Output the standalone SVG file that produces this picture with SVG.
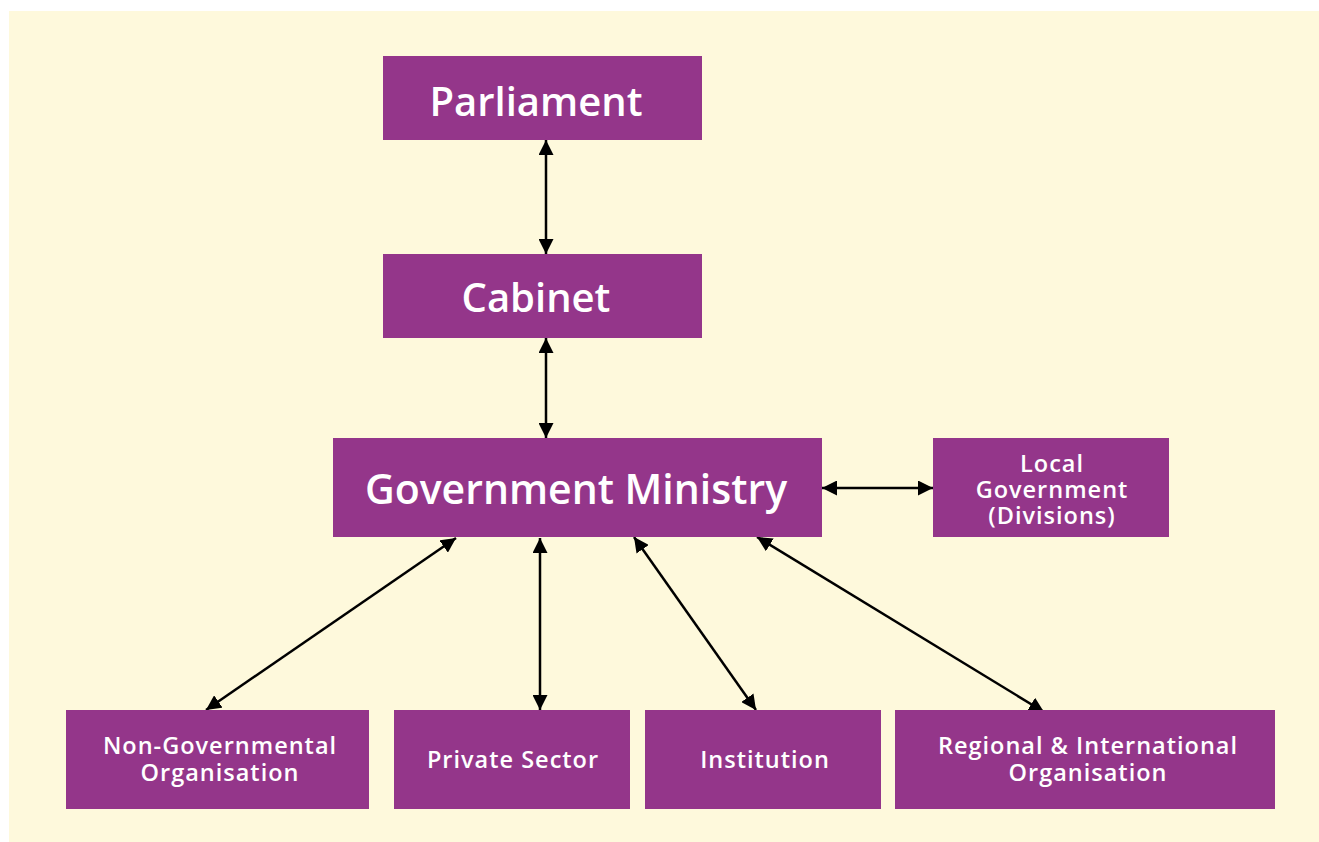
<svg xmlns="http://www.w3.org/2000/svg" width="1319" height="842" viewBox="0 0 1319 842">
<defs>
<marker id="ah" viewBox="0 0 10 10" refX="10" refY="5" markerWidth="6" markerHeight="6" orient="auto-start-reverse" markerUnits="strokeWidth">
<path d="M0,0 L10,5 L0,10 Z" fill="#000"/>
</marker>
<style>
.box{fill:#94368A}
.t{fill:#fff;font-family:"Open Sans","Liberation Sans",sans-serif;font-weight:600;text-anchor:middle}
.big{font-size:40px}
.gm{font-size:41px}
.sm{font-size:23.5px;letter-spacing:1px}
.c{stroke:#000;stroke-width:2.5;fill:none;marker-start:url(#ah);marker-end:url(#ah)}
</style>
</defs>
<rect x="0" y="0" width="1319" height="842" fill="#fff"/>
<rect x="9" y="11" width="1310" height="831" fill="#FEF9DC"/>
<g id="connectors">
<line class="c" x1="546" y1="140" x2="546" y2="254"/>
<line class="c" x1="546" y1="338" x2="546" y2="438"/>
<line class="c" x1="822" y1="488" x2="933" y2="488"/>
<line class="c" x1="456" y1="538" x2="206" y2="710"/>
<line class="c" x1="540" y1="538" x2="540" y2="710"/>
<line class="c" x1="634" y1="537" x2="756" y2="710"/>
<line class="c" x1="757" y1="537" x2="1044" y2="712"/>
</g>
<g id="parliament"><rect class="box" x="383" y="56" width="319" height="84"/><text class="t big" x="536" y="116">Parliament</text></g>
<g id="cabinet"><rect class="box" x="383" y="254" width="319" height="84"/><text class="t big" x="536" y="312">Cabinet</text></g>
<g id="ministry"><rect class="box" x="333" y="438" width="489" height="99"/><text class="t gm" x="576" y="504">Government Ministry</text></g>
<g id="local"><rect class="box" x="933" y="438" width="236" height="99"/><text class="t sm" x="1052" y="472">Local</text><text class="t sm" x="1052" y="498">Government</text><text class="t sm" x="1052" y="524">(Divisions)</text></g>
<g id="ngo"><rect class="box" x="66" y="710" width="303" height="99"/><text class="t sm" x="220" y="754">Non-Governmental</text><text class="t sm" x="220" y="781">Organisation</text></g>
<g id="private"><rect class="box" x="394" y="710" width="236" height="99"/><text class="t sm" x="513" y="768">Private Sector</text></g>
<g id="institution"><rect class="box" x="645" y="710" width="236" height="99"/><text class="t sm" x="765" y="768">Institution</text></g>
<g id="regional"><rect class="box" x="895" y="710" width="380" height="99"/><text class="t sm" x="1088" y="754">Regional &amp; International</text><text class="t sm" x="1088" y="781">Organisation</text></g>
</svg>
